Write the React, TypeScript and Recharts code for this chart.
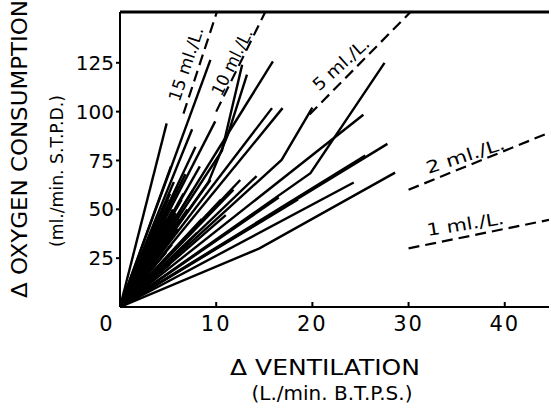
import React from "react";
import { LineChart, Line, XAxis, YAxis, ReferenceLine, ReferenceDot } from "recharts";

// Individual subject traces: [ventilation (L/min), O2 consumption (ml/min)]
const traces: number[][][] = [
  [[0, 0], [4.85, 94]],
  [[0, 0], [5.3, 72]],
  [[0, 0], [5.6, 64]],
  [[0, 0], [5.2, 58]],
  [[0, 0], [4.6, 52]],
  [[0, 0], [3.9, 38]],
  [[0, 0], [6.0, 62]],
  [[0, 0], [6.4, 55]],
  [[0, 0], [5.8, 48]],
  [[0, 0], [4.9, 45]],
  [[0, 0], [5.0, 55]],
  [[0, 0], [5.5, 50]],
  [[0, 0], [6.2, 45]],
  [[0, 0], [6.6, 58]],
  [[0, 0], [4.4, 40]],
  [[0, 0], [7.0, 50]],
  [[0, 0], [7.6, 60]],
  [[0, 0], [6.0, 40]],
  [[0, 0], [8.5, 45]],
  [[0, 0], [5.4, 32]],
  [[0, 0], [4.8, 28]],
  [[0, 0], [5.2, 22]],
  [[0, 0], [4.5, 20]],
  [[0, 0], [3.6, 26]],
  [[0, 0], [7.5, 91]],
  [[0, 0], [7.85, 82]],
  [[0, 0], [6.8, 68]],
  [[0, 0], [9.4, 126.5]],
  [[0, 0], [9.9, 95]],
  [[0, 0], [9.2, 64], [11.2, 88], [13.2, 119]],
  [[0, 0], [10.6, 80], [12.7, 124]],
  [[0, 0], [8.3, 72]],
  [[0, 0], [9.4, 65]],
  [[0, 0], [12.5, 65]],
  [[0, 0], [11.8, 60]],
  [[0, 0], [15.9, 125.7]],
  [[0, 0], [15.8, 101.8]],
  [[0, 0], [16.9, 101.8]],
  [[0, 0], [16.8, 75.3], [20, 102]],
  [[0, 0], [19.8, 68.5], [27.5, 125]],
  [[0, 0], [25.3, 98.4]],
  [[0, 0], [27.8, 83.5]],
  [[0, 0], [25.5, 77.5]],
  [[0, 0], [24.3, 63.7]],
  [[0, 0], [14.5, 30], [28.6, 68.8]],
  [[0, 0], [10.5, 55]],
  [[0, 0], [14.2, 67]],
  [[0, 0], [8.0, 38]],
  [[0, 0], [11.0, 47]],
  [[0, 0], [16.5, 56]],
  [[0, 0], [3.3, 17]],
  [[0, 0], [3.9, 16]],
  [[0, 0], [3.2, 11]],
  [[0, 0], [7.2, 33]],
  [[0, 0], [18.5, 55]],
];

// Dashed iso-extraction lines (ml O2 per L ventilation)
const isoLines: number[][][] = [
  [[6.6, 99], [10.07, 151]],
  [[10, 100], [15.1, 151]],
  [[19.7, 98.5], [30.2, 151]],
  [[30, 60], [44.6, 89.2]],
  [[30, 30], [44.6, 44.6]],
];

const isoLabels = ["15 ml./L.", "10 ml./L.", "5 ml./L.", "2 ml./L.", "1 ml./L."];
const isoLabelAt: number[][] = [[6.86, 124.4], [11.64, 125.4], [22.97, 124.4], [35.9, 77.5], [35.9, 42.5]];
const isoLabelAngle = [-71.7, -63.7, -42, -18, -9];
const isoLabelLen = [77, 72, 70, 82, 78];

const xTicks = [0, 10, 20, 30, 40];
const yTicks = [25, 50, 75, 100, 125];
const xDomain: [number, number] = [0, 44.6];
const yDomain: [number, number] = [0, 151];

const FONT = "DejaVu Sans";

const toPts = (t: number[][]) => t.map(([x, y]) => ({ x, y }));

const XTick = (props: any) => {
  const { x, y, payload } = props;
  const v = payload.value;
  return (
    <g>
      {v !== 0 && <line x1={x} x2={x} y1={y} y2={y - 5} stroke="#000" strokeWidth={2} />}
      <text x={v === 0 ? x - 13 : x} y={y + 24} textAnchor="middle" fontSize={21} fontFamily={FONT} fill="#000" letterSpacing={2}>
        {v}
      </text>
    </g>
  );
};

const XTitle = (props: any) => {
  const vb = props.viewBox || { x: 120, y: 307 };
  return (
    <g>
      <text x={vb.x + 205} y={vb.y + 68} textAnchor="middle" fontSize={22} fontFamily={FONT} fill="#000" textLength={190} lengthAdjust="spacingAndGlyphs">
        Δ VENTILATION
      </text>
      <text x={vb.x + 212} y={vb.y + 93} textAnchor="middle" fontSize={19} fontFamily={FONT} fill="#000" textLength={161} lengthAdjust="spacingAndGlyphs">
        (L./min. B.T.P.S.)
      </text>
    </g>
  );
};

const YTitle = (props: any) => {
  const vb = props.viewBox || { x: 0, y: 12 };
  const x1 = vb.x + 27;
  const y1 = 149;
  const x2 = vb.x + 63;
  const y2 = 171;
  return (
    <g>
      <text x={x1} y={y1} transform={`rotate(-90, ${x1}, ${y1})`} textAnchor="middle" fontSize={22} fontFamily={FONT} fill="#000" textLength={298} lengthAdjust="spacingAndGlyphs">
        Δ OXYGEN CONSUMPTION
      </text>
      <text x={x2} y={y2} transform={`rotate(-90, ${x2}, ${y2})`} textAnchor="middle" fontSize={18} fontFamily={FONT} fill="#000" textLength={152} lengthAdjust="spacingAndGlyphs">
        (ml./min. S.T.P.D.)
      </text>
    </g>
  );
};

const makeIsoLabel = (i: number) => (props: any) => {
  const vb = props.viewBox || { x: 0, y: 0 };
  const cx = vb.x + (vb.width || 0) / 2;
  const cy = vb.y + (vb.height || 0) / 2;
  return (
    <text
      x={cx}
      y={cy}
      transform={`rotate(${isoLabelAngle[i]}, ${cx}, ${cy})`}
      textAnchor="middle"
      dominantBaseline="central"
      fontSize={17}
      fontFamily={FONT}
      fill="#000"
      textLength={isoLabelLen[i]}
      lengthAdjust="spacingAndGlyphs"
    >
      {isoLabels[i]}
    </text>
  );
};

export default function App() {
  return (
    <div style={{ position: "absolute", left: 0, top: 0, width: 551, height: 409, background: "#fff" }}>
      <LineChart width={551} height={409} margin={{ top: 12, right: 2, bottom: 0, left: 0 }}>
        <XAxis
          type="number"
          dataKey="x"
          domain={xDomain}
          ticks={xTicks}
          allowDataOverflow
          height={102}
          tickSize={0}
          tickMargin={0}
          tickLine={false}
          tick={<XTick />}
          axisLine={{ stroke: "#000", strokeWidth: 2 }}
          label={{ content: <XTitle /> }}
          interval={0}
        />
        <YAxis
          type="number"
          dataKey="y"
          domain={yDomain}
          ticks={yTicks}
          allowDataOverflow
          width={120}
          tickSize={4}
          tickMargin={2}
          tickLine={{ stroke: "#000", strokeWidth: 2 }}
          tick={{ fill: "#000", fontSize: 20, fontFamily: FONT }}
          axisLine={{ stroke: "#000", strokeWidth: 2 }}
          label={{ content: <YTitle /> }}
          interval={0}
        />
        <ReferenceLine y={151} stroke="#000" strokeWidth={3} ifOverflow="visible" />
        {traces.map((t, i) => (
          <Line
            key={"t" + i}
            data={toPts(t)}
            dataKey="y"
            type="linear"
            stroke="#000"
            strokeWidth={2.4}
            dot={false}
            activeDot={false}
            isAnimationActive={false}
          />
        ))}
        {isoLines.map((t, i) => (
          <Line
            key={"iso" + i}
            data={toPts(t)}
            dataKey="y"
            type="linear"
            stroke="#000"
            strokeWidth={2.2}
            strokeDasharray="11 6"
            dot={false}
            activeDot={false}
            isAnimationActive={false}
          />
        ))}
        {isoLabels.map((_, i) => (
          <ReferenceDot
            key={"lab" + i}
            x={isoLabelAt[i][0]}
            y={isoLabelAt[i][1]}
            r={0}
            fill="none"
            stroke="none"
            label={{ content: makeIsoLabel(i) }}
          />
        ))}
      </LineChart>
    </div>
  );
}
